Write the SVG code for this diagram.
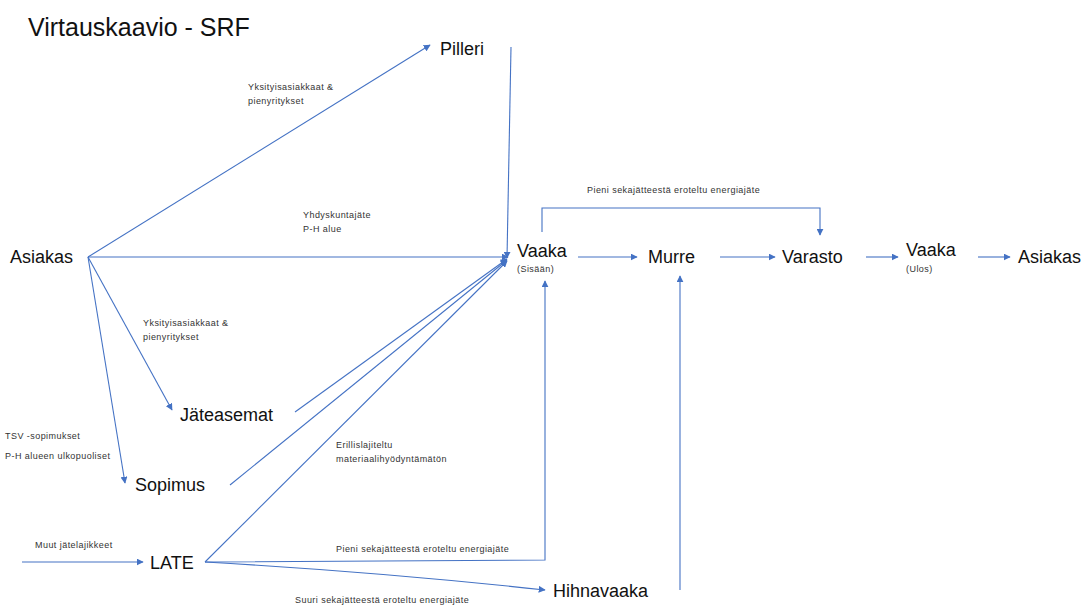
<svg xmlns="http://www.w3.org/2000/svg" width="1086" height="605" viewBox="0 0 1086 605">
<defs>
<marker id="ah" viewBox="0 0 10 10" refX="9" refY="5" markerWidth="7" markerHeight="7" markerUnits="userSpaceOnUse" orient="auto">
<path d="M0,0 L10,5 L0,10 z" fill="#4472C4"/>
</marker>
<style>
.c{fill:none;stroke:#4472C4;stroke-width:1.1;marker-end:url(#ah)}
.n{font-family:"Liberation Sans",Arial,sans-serif;font-size:18px;fill:#111}
.s{font-family:"Liberation Sans",Arial,sans-serif;font-size:9px;letter-spacing:0.45px;fill:#333}
.t{font-family:"Liberation Sans",Arial,sans-serif;font-size:25px;fill:#111}
</style>
</defs>
<rect width="1086" height="605" fill="#fff"/>
<text class="t" x="28" y="36">Virtauskaavio - SRF</text>
<g id="connectors">
<path class="c" d="M88,257 L430,45"/>
<path class="c" d="M511,47 L507,258"/>
<path class="c" d="M88,257 L508,257"/>
<path class="c" d="M88,257 L172,410"/>
<path class="c" d="M88,257 L125,483"/>
<path class="c" d="M295,412 L507,259"/>
<path class="c" d="M230,485 L507,260"/>
<path class="c" d="M205,562 L507,261"/>
<path class="c" d="M205,562 L545,560 L545,281"/>
<path class="c" d="M205,562 Q380,572 545,590"/>
<path class="c" d="M680,590 L680,276"/>
<path class="c" d="M578,257 L637,257"/>
<path class="c" d="M720,257 L775,257"/>
<path class="c" d="M866,257 L898,257"/>
<path class="c" d="M978,257 L1010,257"/>
<path class="c" d="M542,232 L542,208 L820,208 L820,235"/>
<path class="c" d="M22,562 L143,562"/>
</g>
<g id="labels">
<text class="s" x="248" y="90">Yksityisasiakkaat &amp;</text>
<text class="s" x="248" y="104">pienyritykset</text>
<text class="s" x="303" y="218">Yhdyskuntajäte</text>
<text class="s" x="303" y="232">P-H alue</text>
<text class="s" x="143" y="326">Yksityisasiakkaat &amp;</text>
<text class="s" x="143" y="340">pienyritykset</text>
<text class="s" x="5" y="439">TSV -sopimukset</text>
<text class="s" x="5" y="459">P-H alueen ulkopuoliset</text>
<text class="s" x="336" y="448">Erillislajiteltu</text>
<text class="s" x="336" y="462">materiaalihyödyntämätön</text>
<text class="s" x="35" y="548">Muut jätelajikkeet</text>
<text class="s" x="336" y="552">Pieni sekajätteestä eroteltu energiajäte</text>
<text class="s" x="295" y="603">Suuri sekajätteestä eroteltu energiajäte</text>
<text class="s" x="587" y="193">Pieni sekajätteestä eroteltu energiajäte</text>
</g>
<g id="pilleri"><text class="n" x="440" y="55">Pilleri</text></g>
<g id="asiakas1"><text class="n" x="10" y="263">Asiakas</text></g>
<g id="vaaka-sisaan"><text class="n" x="517" y="257">Vaaka</text><text class="s" x="517" y="272" font-size="8">(Sisään)</text></g>
<g id="murre"><text class="n" x="648" y="263">Murre</text></g>
<g id="varasto"><text class="n" x="782" y="263">Varasto</text></g>
<g id="vaaka-ulos"><text class="n" x="906" y="256">Vaaka</text><text class="s" x="906" y="272" font-size="8">(Ulos)</text></g>
<g id="asiakas2"><text class="n" x="1018" y="263">Asiakas</text></g>
<g id="jateasemat"><text class="n" x="180" y="421">Jäteasemat</text></g>
<g id="sopimus"><text class="n" x="135" y="491">Sopimus</text></g>
<g id="late"><text class="n" x="150" y="569">LATE</text></g>
<g id="hihnavaaka"><text class="n" x="553" y="597">Hihnavaaka</text></g>
</svg>
